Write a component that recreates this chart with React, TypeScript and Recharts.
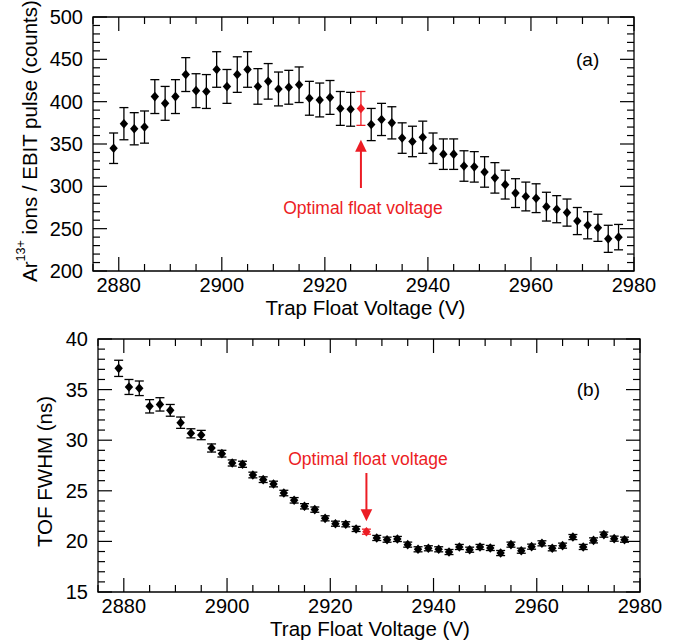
import React from "react";
import {
  ScatterChart,
  Scatter,
  XAxis,
  YAxis,
  ErrorBar,
  ReferenceArea,
  ReferenceLine,
  ReferenceDot,
} from "recharts";

// trap float voltage (V), one scan point every 2 V
const voltage = [
  2879, 2881, 2883, 2885, 2887, 2889, 2891, 2893, 2895, 2897,
  2899, 2901, 2903, 2905, 2907, 2909, 2911, 2913, 2915, 2917,
  2919, 2921, 2923, 2925, 2927, 2929, 2931, 2933, 2935, 2937,
  2939, 2941, 2943, 2945, 2947, 2949, 2951, 2953, 2955, 2957,
  2959, 2961, 2963, 2965, 2967, 2969, 2971, 2973, 2975, 2977,
];

// (a) Ar13+ ions per EBIT pulse
const countsA = [
  345, 374, 368, 370, 406, 398, 406, 432, 413, 412,
  438, 418, 432, 438, 418, 424, 415, 417, 420, 404,
  402, 405, 392, 391, 392, 373, 379, 375, 357, 353,
  358, 345, 338, 338, 324, 323, 317, 310, 302, 292,
  288, 286, 276, 273, 269, 259, 254, 251, 238, 240,
];
const errA = [
  18, 19, 19, 19, 20, 20, 20, 20, 20, 20,
  21, 20, 21, 21, 21, 21, 20, 20, 21, 20,
  20, 20, 20, 20, 20, 19, 19, 19, 18, 18,
  19, 18, 18, 18, 18, 18, 18, 18, 17, 17,
  17, 17, 17, 16, 16, 16, 16, 16, 16, 15,
];

// (b) TOF FWHM (ns)
const fwhmB = [
  37.1, 35.26, 35.13, 33.35, 33.54, 32.95, 31.73, 30.68, 30.51, 29.23,
  28.67, 27.75, 27.62, 26.56, 26.1, 25.67, 24.78, 24.06, 23.47, 23.14,
  22.28, 21.75, 21.69, 21.23, 20.96, 20.34, 20.17, 20.24, 19.68, 19.22,
  19.32, 19.22, 18.95, 19.45, 19.18, 19.45, 19.35, 18.85, 19.68, 19.08,
  19.48, 19.81, 19.32, 19.58, 20.43, 19.45, 20.1, 20.67, 20.27, 20.17,
];
const errB = [
  0.8, 0.74, 0.72, 0.66, 0.66, 0.58, 0.56, 0.45, 0.46, 0.4,
  0.33, 0.3, 0.3, 0.28, 0.28, 0.28, 0.27, 0.27, 0.26, 0.26,
  0.25, 0.25, 0.25, 0.25, 0.25, 0.25, 0.25, 0.25, 0.25, 0.25,
  0.25, 0.25, 0.25, 0.25, 0.25, 0.25, 0.25, 0.25, 0.25, 0.25,
  0.25, 0.25, 0.25, 0.25, 0.25, 0.25, 0.25, 0.25, 0.25, 0.25,
];

const OPTIMAL = 2927;

const xMajor = [2880, 2900, 2920, 2940, 2960, 2980];
const yMajorA = [200, 250, 300, 350, 400, 450, 500];
const yMajorB = [15, 20, 25, 30, 35, 40];

const X_DOMAIN = [2875, 2980];
const FONT = '"Liberation Sans", Arial, Helvetica, sans-serif';
const RED = "#ec1c24";

// minor tick positions between the labelled ones
function steps(from: number, to: number, step: number) {
  const out: number[] = [];
  for (let v = from; v <= to + 1e-9; v += step) out.push(Math.round(v * 1000) / 1000);
  return out;
}

// ticks point inward and are mirrored on the opposite side of the frame
function xTick(plotH: number) {
  return (p: any) => {
    const { x, y, payload } = p;
    const major = xMajor.includes(payload.value);
    const len = major ? 14 : 7;
    return (
      <g>
        <line x1={x} y1={y} x2={x} y2={y - len} stroke="#000" strokeWidth={1.2} />
        <line x1={x} y1={y - plotH} x2={x} y2={y - plotH + len} stroke="#000" strokeWidth={1.2} />
        {major && (
          <text x={x} y={y + 14} textAnchor="middle" dominantBaseline="central"
            fontFamily={FONT} fontSize={20} fill="#000">
            {payload.value}
          </text>
        )}
      </g>
    );
  };
}

function yTick(plotW: number, majors: number[], labelGap: number) {
  return (p: any) => {
    const { x, y, payload } = p;
    const major = majors.includes(payload.value);
    const len = major ? 14 : 7;
    return (
      <g>
        <line x1={x} y1={y} x2={x + len} y2={y} stroke="#000" strokeWidth={1.2} />
        <line x1={x + plotW} y1={y} x2={x + plotW - len} y2={y} stroke="#000" strokeWidth={1.2} />
        {major && (
          <text x={x - labelGap} y={y} textAnchor="end" dominantBaseline="central"
            fontFamily={FONT} fontSize={20} fill="#000">
            {payload.value}
          </text>
        )}
      </g>
    );
  };
}

function diamond(color: string) {
  return (p: any) => {
    const { cx, cy } = p;
    if (cx == null || cy == null) return <g />;
    return (
      <polygon
        points={`${cx},${cy - 4.8} ${cx + 4.2},${cy} ${cx},${cy + 4.8} ${cx - 4.2},${cy}`}
        fill={color}
      />
    );
  };
}

function arrowShape(p: any) {
  const { x1, y1, x2, y2 } = p;
  const dir = y2 > y1 ? 1 : -1;
  const head = 12;
  return (
    <g>
      <line x1={x1} y1={y1} x2={x2} y2={y2 - dir * head * 0.8} stroke={RED} strokeWidth={2} />
      <polygon points={`${x2},${y2} ${x2 - 5.8},${y2 - dir * head} ${x2 + 5.8},${y2 - dir * head}`} fill={RED} />
    </g>
  );
}

function textShape(label: string, color: string, size: number) {
  return (p: any) => (
    <text x={p.cx} y={p.cy} textAnchor="middle" dominantBaseline="central"
      fontFamily={FONT} fontSize={size} fill={color}>
      {label}
    </text>
  );
}

function xTitle(dx: number, dy: number) {
  return (p: any) => {
    const vb = p.viewBox;
    return (
      <text x={vb.x + vb.width / 2 + dx} y={vb.y + dy} textAnchor="middle" dominantBaseline="central"
        fontFamily={FONT} fontSize={20.5} fill="#000">
        Trap Float Voltage (V)
      </text>
    );
  };
}

function yTitleA(p: any) {
  const vb = p.viewBox;
  const cx = vb.x + 29;
  const cy = vb.y + vb.height / 2 - 3;
  return (
    <text transform={`rotate(-90 ${cx} ${cy})`} x={cx} y={cy} textAnchor="middle" dominantBaseline="central"
      fontFamily={FONT} fontSize={20.5} fill="#000">
      Ar<tspan dy={-8} fontSize={12.5}>13+</tspan>
      <tspan dy={8}> ions / EBIT pulse (counts)</tspan>
    </text>
  );
}

function yTitleB(p: any) {
  const vb = p.viewBox;
  const cx = vb.x + 44.5;
  const cy = vb.y + vb.height / 2 + 6;
  return (
    <text transform={`rotate(-90 ${cx} ${cy})`} x={cx} y={cy} textAnchor="middle" dominantBaseline="central"
      fontFamily={FONT} fontSize={20.5} fill="#000">
      TOF FWHM (ns)
    </text>
  );
}

const rowsA = voltage.map((v, i) => ({ v, y: countsA[i], err: errA[i] }));
const rowsB = voltage.map((v, i) => ({ v, y: fwhmB[i], err: errB[i] }));

const W = 679;
const H = 321;

function PanelA() {
  const margin = { top: 17, right: 45, bottom: 0, left: 0 };
  const plotW = W - margin.right - 93;
  const plotH = H - margin.top - 50;
  return (
    <ScatterChart width={W} height={H} margin={margin}>
      <XAxis type="number" dataKey="v" domain={X_DOMAIN} ticks={steps(2875, 2980, 5)} interval={0}
        allowDataOverflow height={50} tickSize={0} tickMargin={0} axisLine={false} tickLine={false}
        tick={xTick(plotH)} label={{ content: xTitle(2, 36) }} />
      <YAxis type="number" dataKey="y" domain={[200, 500]} ticks={steps(200, 500, 10)} interval={0}
        allowDataOverflow width={93} tickSize={0} tickMargin={0} axisLine={false} tickLine={false}
        tick={yTick(plotW, yMajorA, 10)} label={{ content: yTitleA }} />
      <ReferenceArea x1={2875} x2={2980} y1={200} y2={500} fill="none" stroke="#000" strokeWidth={1.3} ifOverflow="visible" />
      <Scatter data={rowsA.filter((r) => r.v !== OPTIMAL)} fill="#000" shape={diamond("#000")} isAnimationActive={false}>
        <ErrorBar dataKey="err" direction="y" width={4.5} stroke="#000" strokeWidth={1.3} isAnimationActive={false} />
      </Scatter>
      <Scatter data={rowsA.filter((r) => r.v === OPTIMAL)} fill={RED} shape={diamond(RED)} isAnimationActive={false}>
        <ErrorBar dataKey="err" direction="y" width={4.5} stroke={RED} strokeWidth={1.3} isAnimationActive={false} />
      </Scatter>
      <ReferenceLine segment={[{ x: OPTIMAL, y: 298 }, { x: OPTIMAL, y: 355 }]} shape={arrowShape} ifOverflow="visible" />
      <ReferenceDot x={2927.4} y={274.2} r={0} shape={textShape("Optimal float voltage", RED, 17.5)} ifOverflow="visible" />
      <ReferenceDot x={2971} y={450} r={0} shape={textShape("(a)", "#000", 19)} ifOverflow="visible" />
    </ScatterChart>
  );
}

function PanelB() {
  const margin = { top: 18, right: 39, bottom: 0, left: 0 };
  const plotW = W - margin.right - 98;
  const plotH = H - margin.top - 50;
  return (
    <ScatterChart width={W} height={H} margin={margin}>
      <XAxis type="number" dataKey="v" domain={X_DOMAIN} ticks={steps(2875, 2980, 5)} interval={0}
        allowDataOverflow height={50} tickSize={0} tickMargin={0} axisLine={false} tickLine={false}
        tick={xTick(plotH)} label={{ content: xTitle(1, 36) }} />
      <YAxis type="number" dataKey="y" domain={[15, 40]} ticks={steps(15, 40, 1)} interval={0}
        allowDataOverflow width={98} tickSize={0} tickMargin={0} axisLine={false} tickLine={false}
        tick={yTick(plotW, yMajorB, 10)} label={{ content: yTitleB }} />
      <ReferenceArea x1={2875} x2={2980} y1={15} y2={40} fill="none" stroke="#000" strokeWidth={1.3} ifOverflow="visible" />
      <Scatter data={rowsB.filter((r) => r.v !== OPTIMAL)} fill="#000" shape={diamond("#000")} isAnimationActive={false}>
        <ErrorBar dataKey="err" direction="y" width={4.5} stroke="#000" strokeWidth={1.3} isAnimationActive={false} />
      </Scatter>
      <Scatter data={rowsB.filter((r) => r.v === OPTIMAL)} fill={RED} shape={diamond(RED)} isAnimationActive={false}>
        <ErrorBar dataKey="err" direction="y" width={4.5} stroke={RED} strokeWidth={1.3} isAnimationActive={false} />
      </Scatter>
      <ReferenceLine segment={[{ x: OPTIMAL, y: 26.76 }, { x: OPTIMAL, y: 21.98 }]} shape={arrowShape} ifOverflow="visible" />
      <ReferenceDot x={2927.3} y={28.14} r={0} shape={textShape("Optimal float voltage", RED, 17.5)} ifOverflow="visible" />
      <ReferenceDot x={2970} y={35} r={0} shape={textShape("(b)", "#000", 19)} ifOverflow="visible" />
    </ScatterChart>
  );
}

export default function App() {
  return (
    <div style={{ position: "absolute", left: 0, top: 0, width: W, height: 2 * H, background: "#fff" }}>
      <PanelA />
      <PanelB />
    </div>
  );
}
